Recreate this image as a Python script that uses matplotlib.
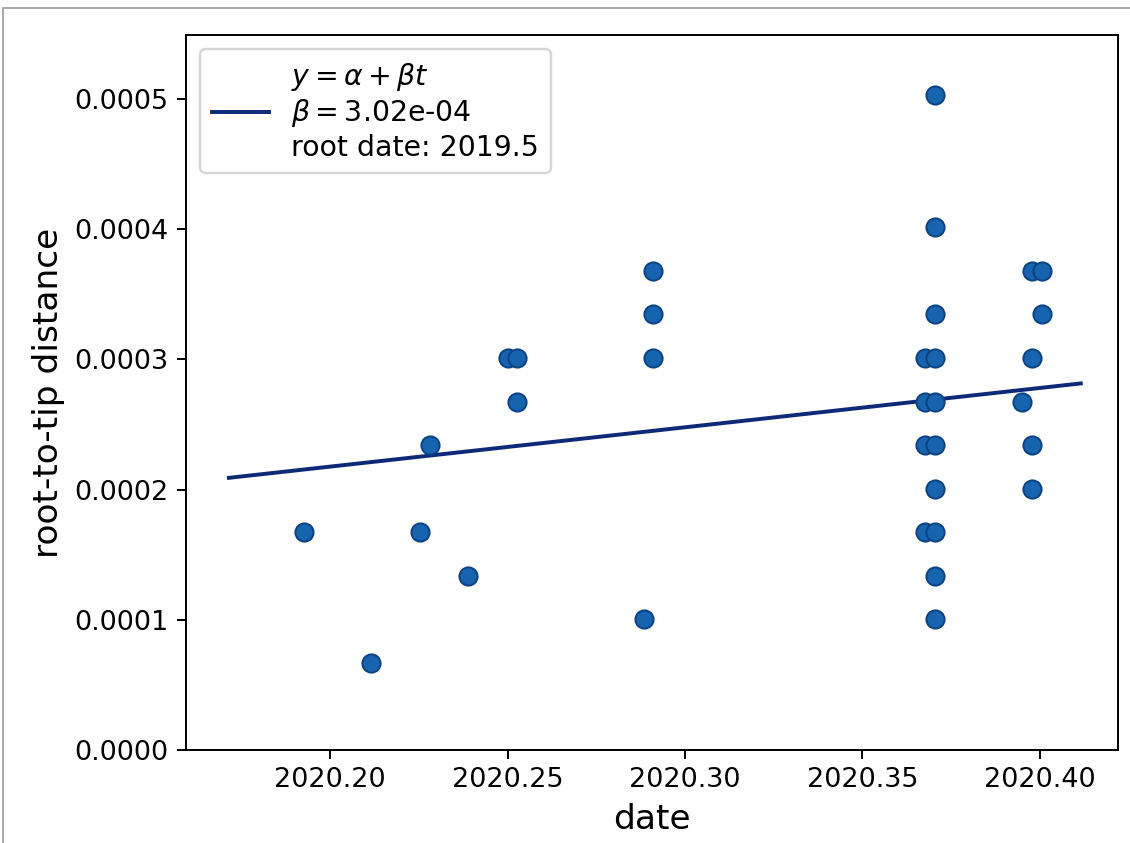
# root-to-tip regression plot

import matplotlib.pyplot as plt
from matplotlib.patches import Rectangle

# sampling dates of the tips
dates = [2020.1927, 2020.2115, 2020.2254, 2020.2282, 2020.2389,
         2020.2501, 2020.2527, 2020.2527,
         2020.2885, 2020.2910, 2020.2910, 2020.2910,
         2020.3704, 2020.3704, 2020.3704,
         2020.3676, 2020.3704, 2020.3676, 2020.3704, 2020.3676, 2020.3704,
         2020.3704, 2020.3676, 2020.3704, 2020.3704, 2020.3704,
         2020.3977, 2020.4006, 2020.4006, 2020.3977, 2020.3949, 2020.3977, 2020.3977]
# root-to-tip distances
dist = [1.672e-4, 6.69e-5, 1.672e-4, 2.341e-4, 1.338e-4,
        3.01e-4, 3.01e-4, 2.675e-4,
        1.003e-4, 3.679e-4, 3.344e-4, 3.01e-4,
        5.03e-4, 4.013e-4, 3.344e-4,
        3.01e-4, 3.01e-4, 2.675e-4, 2.675e-4, 2.341e-4, 2.341e-4,
        2.006e-4, 1.672e-4, 1.672e-4, 1.338e-4, 1.003e-4,
        3.679e-4, 3.679e-4, 3.344e-4, 3.01e-4, 2.675e-4, 2.341e-4, 2.006e-4]

# fit
beta = 3.02e-04
root_date = 2019.4795
fit_t = [2020.1715, 2020.4115]
fit_y = [beta * (t - root_date) for t in fit_t]

fig = plt.figure(figsize=(1130 / 176.6, 843 / 176.6), dpi=176.6)
ax = fig.add_axes([0.1646, 0.1103, 0.8248, 0.8482])

ax.plot(fit_t, fit_y, color="#0c2a78", lw=1.6,
        label="$y=\\alpha + \\beta t$\n$\\beta=$3.02e-04\nroot date: 2019.5")
ax.scatter(dates, dist, s=55, color="#1763ad", edgecolor="#0b4283", linewidth=0.8, zorder=3)

ax.set_xlim(2020.1594, 2020.4220)
ax.set_ylim(0, 0.000549)
ax.set_xticks([2020.20, 2020.25, 2020.30, 2020.35, 2020.40])
ax.xaxis.set_major_formatter(plt.FormatStrFormatter("%.2f"))
ax.yaxis.set_major_formatter(plt.FormatStrFormatter("%.4f"))
ax.tick_params(labelsize=11)
ax.set_xlabel("date", fontsize=14)
ax.set_ylabel("root-to-tip distance", fontsize=14)
ax.legend(loc="upper left", fontsize=11.6)

# thin grey frame of the screenshot
fig.patches.append(Rectangle((0.003, -0.01), 1.1, 1 - 0.0095 + 0.01, transform=fig.transFigure,
                             fill=False, edgecolor="#aaaaaa", lw=0.8))

fig.savefig("out.png", dpi=176.6)
